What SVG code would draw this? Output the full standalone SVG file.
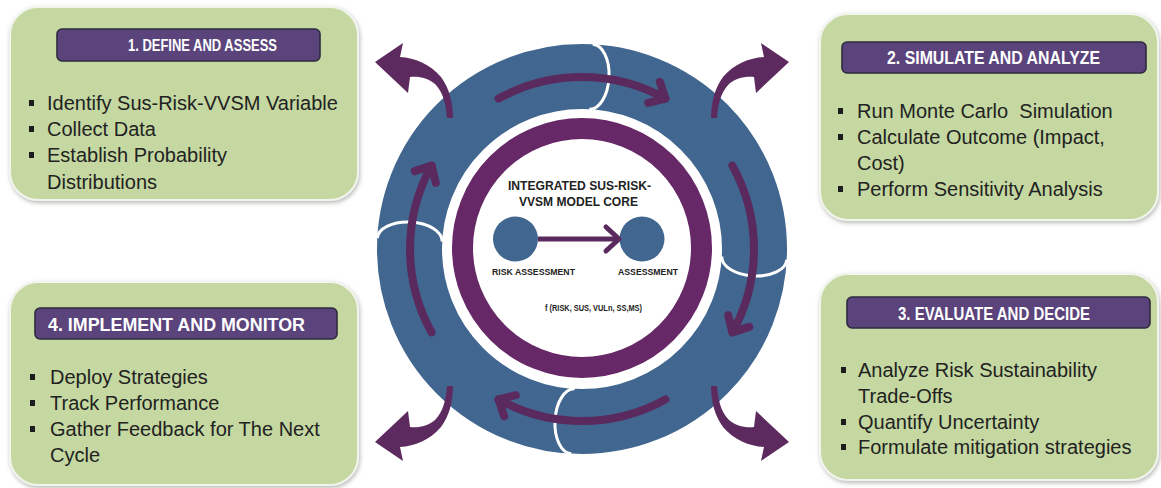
<svg xmlns="http://www.w3.org/2000/svg" width="1161" height="488" viewBox="0 0 1161 488">
  <style>
    .card{fill:#c5d8a1;stroke:#f2f4ee;stroke-width:2}
    .head{fill:#5b447c;stroke:#2e2a40;stroke-width:1.6}
    .head-t{font-family:"Liberation Sans",Arial,sans-serif;font-weight:bold;fill:#ffffff}
    .body{font-family:"Liberation Sans",Arial,sans-serif;font-size:20px;fill:#222222}
    .dot{fill:#1c1c1c}
    .ring{fill:none;stroke:#41668f;stroke-width:65}
    .core-ring{fill:none;stroke:#672867;stroke-width:21}
    .seam{fill:none;stroke:#ffffff;stroke-width:3}
    .flow{fill:none;stroke:#5a2a5e;stroke-width:8;stroke-linecap:round;marker-end:url(#chev)}
    .link{fill:none;stroke:#5a2a5e;stroke-width:5;marker-end:url(#chev-s)}
    .burst{fill:#5d2a5f}
    .node{fill:#41668f}
    .core-t{font-family:"Liberation Sans",Arial,sans-serif;font-weight:bold;fill:#222222}
  </style>
  <defs>
    <filter id="shadow" x="-5%" y="-5%" width="110%" height="115%">
      <feDropShadow dx="1" dy="2" stdDeviation="2" flood-color="#8a8f86" flood-opacity="0.6"/>
    </filter>
    <marker id="chev" viewBox="-24 -20 30 40" markerWidth="30" markerHeight="40" refX="0" refY="0" orient="auto" markerUnits="userSpaceOnUse">
      <path d="M-13,-12 L0,0 L-13,12" fill="none" stroke="#5a2a5e" stroke-width="8" stroke-linecap="round" stroke-linejoin="round"/>
    </marker>
    <marker id="chev-s" viewBox="-20 -18 26 36" markerWidth="26" markerHeight="36" refX="0" refY="0" orient="auto" markerUnits="userSpaceOnUse">
      <path d="M-13,-12 L0,0 L-13,12" fill="none" stroke="#5a2a5e" stroke-width="5" stroke-linecap="round" stroke-linejoin="round"/>
    </marker>
    <!-- outward sweep arrow, drawn for the upper-left corner and mirrored for the others -->
    <path id="sweep" d="M375,62 L403,43 L400,57 C415,58 430,64 441,77 C449,88 453,102 453,118 L447,118 C446,104 443,92 435,84 C428,78 419,76 410,77 L408,93 Z"/>
  </defs>

  <rect width="1161" height="488" fill="#ffffff"/>

  <!-- step cards -->
  <g id="step1">
    <rect class="card" x="10" y="7" width="348" height="193" rx="28" filter="url(#shadow)"/>
    <rect class="head" x="57" y="29" width="263" height="32" rx="5"/>
    <text class="head-t" x="128" y="51" font-size="16" textLength="149" lengthAdjust="spacingAndGlyphs">1. DEFINE AND ASSESS</text>
    <rect class="dot" x="29" y="100" width="5" height="6"/>
    <rect class="dot" x="29" y="126" width="5" height="6"/>
    <rect class="dot" x="29" y="152" width="5" height="6"/>
    <text class="body" x="47" y="110">Identify Sus-Risk-VVSM Variable</text>
    <text class="body" x="47" y="136">Collect Data</text>
    <text class="body" x="47" y="162">Establish Probability</text>
    <text class="body" x="47" y="189">Distributions</text>
  </g>

  <g id="step2">
    <rect class="card" x="820" y="14" width="338" height="206" rx="28" filter="url(#shadow)"/>
    <rect class="head" x="842" y="42" width="304" height="31" rx="5"/>
    <text class="head-t" x="887" y="63.5" font-size="18" textLength="213" lengthAdjust="spacingAndGlyphs">2. SIMULATE AND ANALYZE</text>
    <rect class="dot" x="838" y="108" width="5" height="6"/>
    <rect class="dot" x="838" y="134" width="5" height="6"/>
    <rect class="dot" x="838" y="186" width="5" height="6"/>
    <text class="body" x="857" y="118" xml:space="preserve">Run Monte Carlo  Simulation</text>
    <text class="body" x="857" y="144">Calculate Outcome (Impact,</text>
    <text class="body" x="857" y="170">Cost)</text>
    <text class="body" x="857" y="196">Perform Sensitivity Analysis</text>
  </g>

  <g id="step3">
    <rect class="card" x="820" y="274" width="338" height="206" rx="28" filter="url(#shadow)"/>
    <rect class="head" x="847" y="297" width="303" height="31" rx="5"/>
    <text class="head-t" x="898" y="319.5" font-size="17.5" textLength="192" lengthAdjust="spacingAndGlyphs">3. EVALUATE AND DECIDE</text>
    <rect class="dot" x="841" y="367" width="5" height="6"/>
    <rect class="dot" x="841" y="419" width="5" height="6"/>
    <rect class="dot" x="841" y="444" width="5" height="6"/>
    <text class="body" x="858" y="377">Analyze Risk Sustainability</text>
    <text class="body" x="858" y="403">Trade-Offs</text>
    <text class="body" x="858" y="429">Quantify Uncertainty</text>
    <text class="body" x="858" y="454">Formulate mitigation strategies</text>
  </g>

  <g id="step4">
    <rect class="card" x="10" y="282" width="348" height="203" rx="28" filter="url(#shadow)"/>
    <rect class="head" x="35" y="308" width="302" height="31" rx="5"/>
    <text class="head-t" x="48" y="330.5" font-size="18.5" textLength="257" lengthAdjust="spacingAndGlyphs">4. IMPLEMENT AND MONITOR</text>
    <rect class="dot" x="30" y="374" width="5" height="6"/>
    <rect class="dot" x="30" y="400" width="5" height="6"/>
    <rect class="dot" x="30" y="426" width="5" height="6"/>
    <text class="body" x="50" y="384">Deploy Strategies</text>
    <text class="body" x="50" y="410">Track Performance</text>
    <text class="body" x="50" y="436">Gather Feedback for The Next</text>
    <text class="body" x="50" y="462">Cycle</text>
  </g>

  <!-- cycle ring: four interlocking segments -->
  <g id="cycle-ring">
    <circle class="ring" cx="582" cy="249" r="172.5"/>
    <path class="seam" d="M787,249 A32.5,18 0 0 1 722,249" transform="rotate(3 582 249)"/>
    <path class="seam" d="M787,249 A32.5,18 0 0 1 722,249" transform="rotate(93 582 249)"/>
    <path class="seam" d="M787,249 A32.5,18 0 0 1 722,249" transform="rotate(183 582 249)"/>
    <path class="seam" d="M787,249 A32.5,18 0 0 1 722,249" transform="rotate(273 582 249)"/>
  </g>

  <!-- model core -->
  <g id="core">
    <circle class="core-ring" cx="582" cy="248" r="119.5"/>
    <text class="core-t" x="508" y="190" font-size="13" textLength="143" lengthAdjust="spacingAndGlyphs">INTEGRATED SUS-RISK-</text>
    <text class="core-t" x="519" y="206" font-size="13" textLength="119" lengthAdjust="spacingAndGlyphs">VVSM MODEL CORE</text>
    <text class="core-t" x="545" y="311" font-size="9" textLength="97" lengthAdjust="spacingAndGlyphs">f (RISK, SUS, VULn, SS,MS)</text>
  </g>
  <g id="risk-assessment">
    <circle class="node" cx="515.5" cy="239" r="22.5"/>
    <text class="core-t" x="492" y="275" font-size="9.5" textLength="83" lengthAdjust="spacingAndGlyphs">RISK ASSESSMENT</text>
  </g>
  <g id="assessment">
    <circle class="node" cx="642" cy="239" r="22.5"/>
    <text class="core-t" x="618" y="275" font-size="9.5" textLength="60" lengthAdjust="spacingAndGlyphs">ASSESSMENT</text>
  </g>

  <!-- connectors -->
  <g id="connectors">
    <path class="link" d="M538,239 L619,239"/>
    <path class="flow" d="M498.6,98.6 A172,172 0 0 1 665.4,98.6"/>
    <path class="flow" d="M732.4,165.6 A172,172 0 0 1 732.4,332.4"/>
    <path class="flow" d="M665.4,399.4 A172,172 0 0 1 498.6,399.4"/>
    <path class="flow" d="M431.6,332.4 A172,172 0 0 1 431.6,165.6"/>
    <use href="#sweep" class="burst"/>
    <use href="#sweep" class="burst" transform="translate(1164 0) scale(-1 1)"/>
    <use href="#sweep" class="burst" transform="translate(0 504) scale(1 -1)"/>
    <use href="#sweep" class="burst" transform="translate(1164 504) scale(-1 -1)"/>
  </g>
</svg>
